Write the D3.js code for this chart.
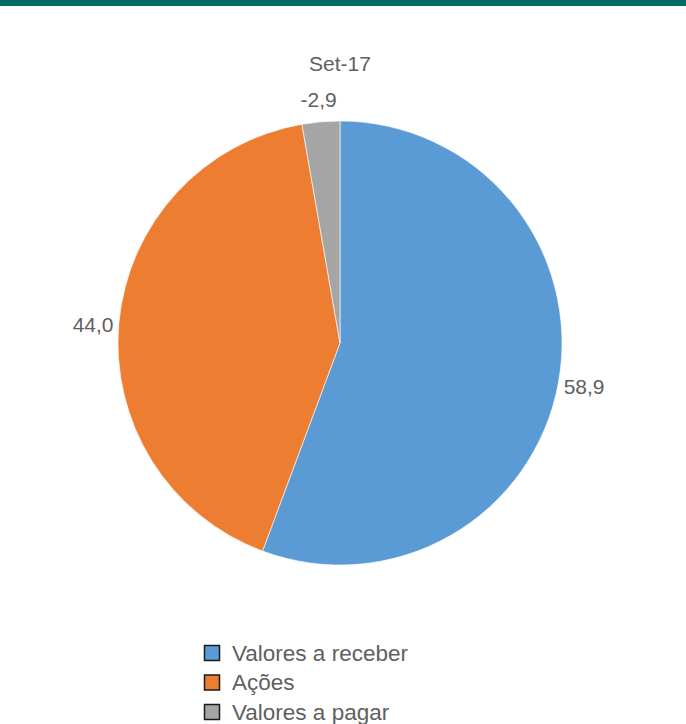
<!DOCTYPE html>
<html><head><meta charset="utf-8">
<script src="https://cdn.jsdelivr.net/npm/d3@7"></script>
<style>html,body{margin:0;padding:0;background:#fff;}svg{display:block;font-family:"Liberation Sans",Arial,sans-serif;}</style>
</head><body>
<svg id="c" width="686" height="724"></svg>
<script>
const title = "Set-17";
const categories = ["Valores a receber", "Ações", "Valores a pagar"];
const values = [58.9, 44.0, -2.9];
const labels = ["58,9", "44,0", "-2,9"];
const colors = ["#5B9BD5", "#ED7D31", "#A5A5A5"];

const svg = d3.select("#c");
svg.append("rect").attr("x",0).attr("y",0).attr("width",686).attr("height",6).attr("fill","#006B63");

const cx = 340, cy = 343, R = 222;
const data = categories.map((c,i)=>({c, v: values[i], a: Math.abs(values[i]), l: labels[i], col: colors[i]}));
const pie = d3.pie().value(d=>d.a).sort(null);
const arcs = pie(data);
const arc = d3.arc().innerRadius(0).outerRadius(R);
const g = svg.append("g").attr("transform",`translate(${cx},${cy})`);
g.selectAll("path").data(arcs).join("path")
  .attr("d", arc).attr("fill", d=>d.data.col)
  .attr("stroke","#fff").attr("stroke-width",0.6);

const lr = 248;
g.selectAll("text.lab").data(arcs).join("text").attr("class","lab")
  .attr("x", d=>{const m=(d.startAngle+d.endAngle)/2; return lr*Math.sin(m);})
  .attr("y", d=>{const m=(d.startAngle+d.endAngle)/2; return -lr*Math.cos(m) + (Math.sin(m) < 0 ? 4 : 0);})
  .attr("text-anchor","middle").attr("dominant-baseline","central")
  .attr("font-size",21).attr("fill","#606060").text(d=>d.data.l);

svg.append("text").attr("x",340).attr("y",71).attr("text-anchor","middle")
  .attr("font-size",21).attr("fill","#606060").text(title);

const lg = svg.append("g");
const rows = lg.selectAll("g").data(data).join("g")
  .attr("transform",(d,i)=>`translate(204,${645 + i*29.5})`);
rows.append("rect").attr("x",0.5).attr("y",0.5).attr("width",15).attr("height",15)
  .attr("fill",d=>d.col).attr("stroke","#1a1a1a").attr("stroke-width",1.5);
rows.append("text").attr("x",28).attr("y",8).attr("dominant-baseline","central")
  .attr("font-size",22.5).attr("fill","#606060").text(d=>d.c);
</script>
</body></html>
